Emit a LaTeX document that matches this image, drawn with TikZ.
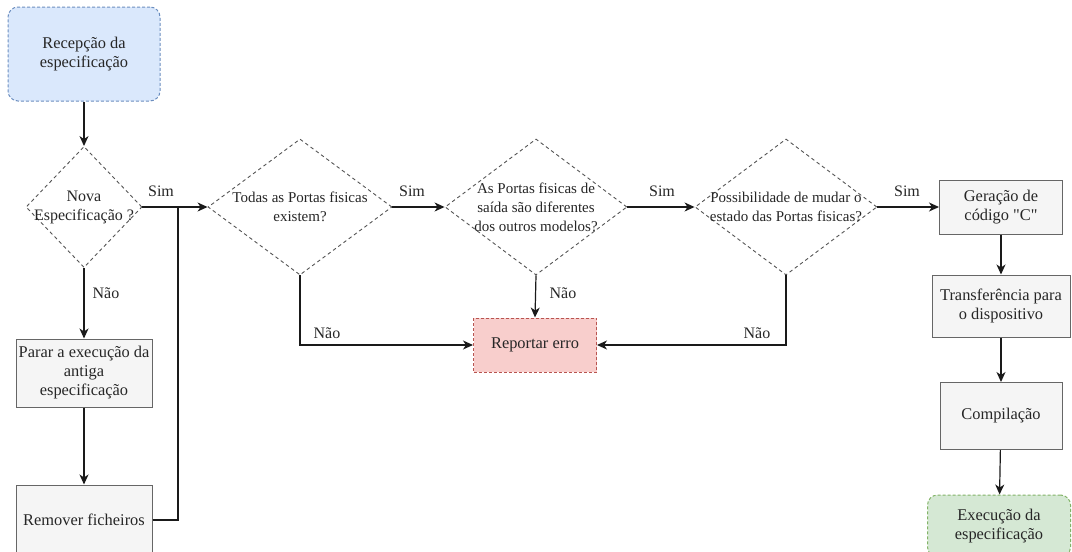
\documentclass[tikz,border=0pt]{standalone}
\usepackage{fontspec}
\setmainfont{Liberation Serif}
\usetikzlibrary{shapes.geometric,arrows.meta}
\definecolor{startfill}{HTML}{DAE8FC}
\definecolor{startline}{HTML}{6C8EBF}
\definecolor{errfill}{HTML}{F8CECC}
\definecolor{errline}{HTML}{B85450}
\definecolor{endfill}{HTML}{D5E8D4}
\definecolor{endline}{HTML}{82B366}
\definecolor{boxfill}{HTML}{F5F5F5}
\definecolor{boxline}{HTML}{666666}
\definecolor{decline}{HTML}{555555}
\definecolor{wire}{HTML}{1A1A1A}
\definecolor{ink}{HTML}{262626}
\tikzset{
  boxtext/.style={font=\fontsize{16.4}{19}\selectfont, text=ink, align=center},
  procbox/.style={boxtext, rectangle, draw=boxline, fill=boxfill, line width=1pt, inner sep=1pt},
  termbox/.style={boxtext, rectangle, rounded corners=10pt, dash pattern=on 3pt off 2pt, line width=1pt, inner sep=1pt},
  decision/.style={diamond, draw=decline, fill=white, dash pattern=on 3.5pt off 3pt, line width=0.9pt, inner sep=0pt},
  dtext/.style={font=\fontsize{15}{19}\selectfont, text=ink, align=center, inner sep=0pt},
  edgelabel/.style={font=\fontsize{16}{19}\selectfont, text=ink, inner sep=0pt},
  flow/.style={draw=wire, line width=1.2pt, -{Stealth[length=10pt,width=9pt,inset=3pt]}},
  wireline/.style={draw=wire, line width=1.2pt}
}
\begin{document}
\begin{tikzpicture}[x=1pt,y=-1pt]
\useasboundingbox (0,0) rectangle (1072,552);

% left column
\node[termbox, draw=startline, fill=startfill, minimum width=152pt, minimum height=94pt] (start) at (84,54) {Recepção da\\especificação};
\node[decision, minimum width=116pt, minimum height=121pt,
      label={[dtext, font=\fontsize{16}{19}\selectfont]center:{Nova\\Especificação ?}}] (d1) at (84,207) {};
\node[procbox, minimum width=136pt, minimum height=68pt] (stop) at (84,373) {Parar a execução da\\antiga\\especificação};
\node[procbox, minimum width=136pt, minimum height=70pt] (rem) at (84,520) {Remover ficheiros};

% decision row
\node[decision, minimum width=184pt, minimum height=136pt,
      label={[dtext]center:{Todas as Portas fisicas\\existem?}}] (d2) at (300,207) {};
\node[decision, minimum width=182pt, minimum height=136pt,
      label={[dtext]center:{As Portas fisicas de\\saída são diferentes\\dos outros modelos?}}] (d3) at (536,207) {};
\node[decision, minimum width=182pt, minimum height=136pt,
      label={[dtext]center:{Possibilidade de mudar o\\estado das Portas fisicas?}}] (d4) at (786,207) {};

\node[termbox, rounded corners=0pt, draw=errline, fill=errfill, minimum width=123pt, minimum height=54pt] (err) at (535,345) {Reportar erro};

% right column
\node[procbox, minimum width=123pt, minimum height=54pt] (gen) at (1001,207) {Geração de\\código \textquotedbl C\textquotedbl};
\node[procbox, minimum width=138pt, minimum height=62pt] (xfer) at (1001,306) {Transferência para\\o dispositivo};
\node[procbox, minimum width=122pt, minimum height=67pt] (comp) at (1001,416) {Compilação};
\node[termbox, draw=endline, fill=endfill, minimum width=143pt, minimum height=62pt] (exec) at (999,526) {Execução da\\especificação};

% connectors
\coordinate (join) at (178,207);
\coordinate (no2) at (300,345);
\coordinate (no4) at (786,345);

\draw[flow] (start) -- (d1);
\draw[flow] (d1.east) -- (d2.west);
\draw[wireline] (rem.east) -| (join);
\draw[flow] (d1.south) -- (stop.north);
\draw[flow] (stop) -- (rem);
\draw[flow] (d2.east) -- (d3.west);
\draw[flow] (d3.east) -- (d4.west);
\draw[flow] (d4.east) -- (gen.west);
\draw[flow] (d2.south) -- (no2) -- (err.west);
\draw[flow] (d3.south) -- (err.north);
\draw[flow] (d4.south) -- (no4) -- (err.east);
\draw[flow] (gen) -- (xfer);
\draw[flow] (xfer) -- (comp);
\draw[flow] (comp) -- (exec);

% branch labels
\node[edgelabel] (s1) at (161,191) {Sim};
\node[edgelabel] (s2) at (412,191) {Sim};
\node[edgelabel] (s3) at (662,191) {Sim};
\node[edgelabel] (s4) at (907,191) {Sim};
\node[edgelabel] (n1) at (106,293) {Não};
\node[edgelabel] (n2) at (327,333) {Não};
\node[edgelabel] (n3) at (563,293) {Não};
\node[edgelabel] (n4) at (757,333) {Não};
\end{tikzpicture}
\end{document}
